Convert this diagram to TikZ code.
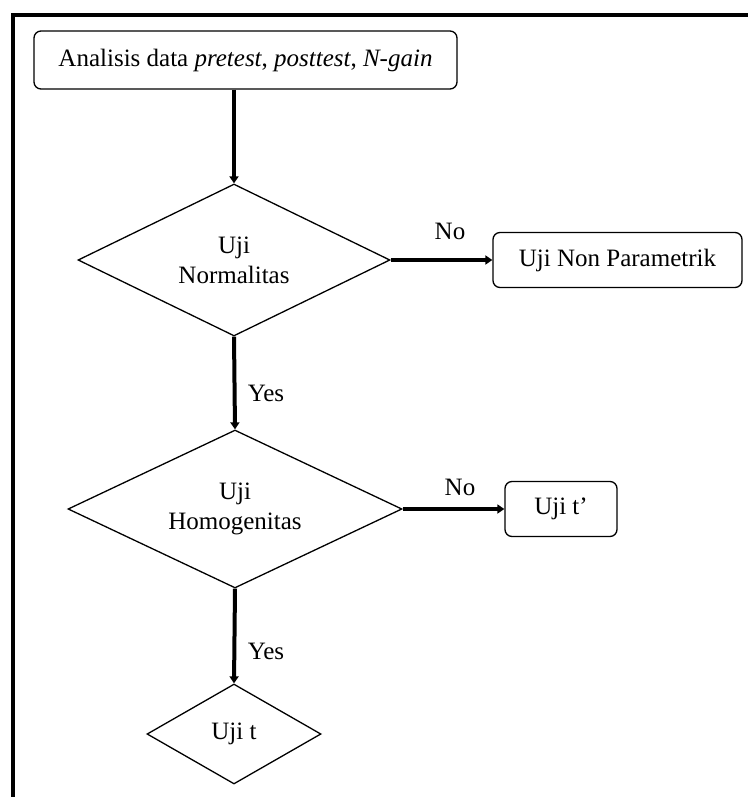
\documentclass[tikz,border=0pt]{standalone}
\usepackage{fontspec}
\setmainfont{Liberation Serif}
\usetikzlibrary{shapes.geometric,arrows.meta}
\begin{document}
\begin{tikzpicture}[x=1pt,y=-1pt,
  every node/.style={font=\fontsize{25}{30}\selectfont},
  procbox/.style={draw, line width=1.3pt, rounded corners=7pt, inner sep=0pt, align=center},
  decision/.style={draw, diamond, line width=1.3pt, inner sep=0pt, align=center, shape aspect=2},
  flow/.style={line width=4pt, -{Triangle[length=7pt,width=9pt]}},
  lbl/.style={inner sep=0pt}
]
\useasboundingbox (0,0) rectangle (748,797);
\draw[line width=4pt, line join=miter] (13,797) -- (13,15) -- (748,15);

\node[procbox, minimum width=423pt, minimum height=58pt] (start) at (245.5,60) {Analisis data \textit{pretest}, \textit{posttest}, \textit{N-gain}};
\node[decision, minimum width=312pt, minimum height=152pt] (d1) at (234,260) {Uji\\Normalitas};
\node[procbox, minimum width=249pt, minimum height=55pt] (np) at (617.5,260) {Uji Non Parametrik};
\node[decision, minimum width=334pt, minimum height=158pt] (d2) at (235,509) {Uji\\Homogenitas};
\node[procbox, minimum width=112pt, minimum height=55pt] (tp) at (561,509) {Uji t’};
\node[decision, minimum width=174pt, minimum height=100pt, shape aspect=1.74] (d3) at (234,734) {Uji t};

\draw[flow] (start.south -| d1.north) -- (d1.north);
\draw[flow] (d1.east) -- (np.west);
\draw[flow] (d1.south) -- (d2.north);
\draw[flow] (d2.east) -- (tp.west);
\draw[flow] (d2.south) -- (d3.north);

\node[lbl] (no1) at (450,231) {No};
\node[lbl] (no2) at (460,487) {No};
\node[lbl] (yes1) at (266,393) {Yes};
\node[lbl] (yes2) at (266,651) {Yes};
\end{tikzpicture}
\end{document}
